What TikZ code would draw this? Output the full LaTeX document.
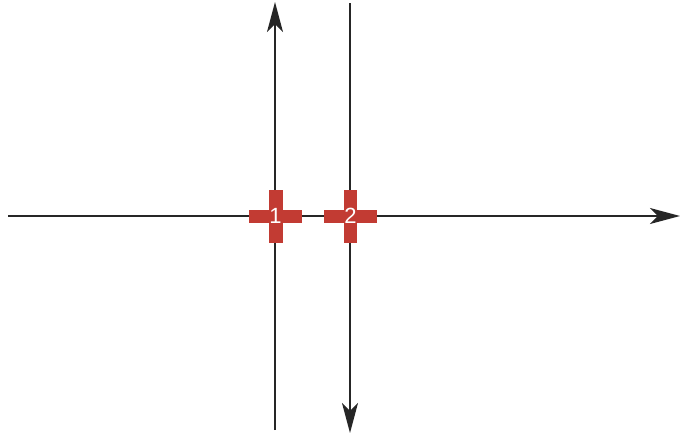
\documentclass[tikz,border=0pt]{standalone}
\usepackage{fontspec}
\setmainfont{Liberation Sans}
\usetikzlibrary{arrows.meta}
\definecolor{crossred}{HTML}{C23B33}
\tikzset{
  axis/.style={line width=1.3pt, draw=black!85, -{Stealth[length=30pt,width=16pt,inset=8pt]}},
  crossarm/.style={fill=crossred, draw=none},
  crosslabel/.style={text=white, font=\fontsize{22}{22}\selectfont, inner sep=0pt}
}
\begin{document}
\begin{tikzpicture}[x=1pt,y=-1pt]
\useasboundingbox (0,0) rectangle (681,434);
\coordinate (hs) at (8,216);
\coordinate (he) at (680,216);
\coordinate (v1s) at (275,430);
\coordinate (v1e) at (275,2);
\coordinate (v2s) at (350,3);
\coordinate (v2e) at (350,433);
\draw[axis] (hs) -- (he);
\draw[axis] (v1s) -- (v1e);
\draw[axis] (v2s) -- (v2e);
% cross 1
\fill[crossred] (249,210) rectangle (302,223);
\fill[crossred] (269,190) rectangle (283,243);
\node[crosslabel] (c1) at (275.5,216) {1};
% cross 2
\fill[crossred] (324,210) rectangle (377,223);
\fill[crossred] (344,190) rectangle (357,243);
\node[crosslabel] (c2) at (350.5,216) {2};
\end{tikzpicture}
\end{document}
